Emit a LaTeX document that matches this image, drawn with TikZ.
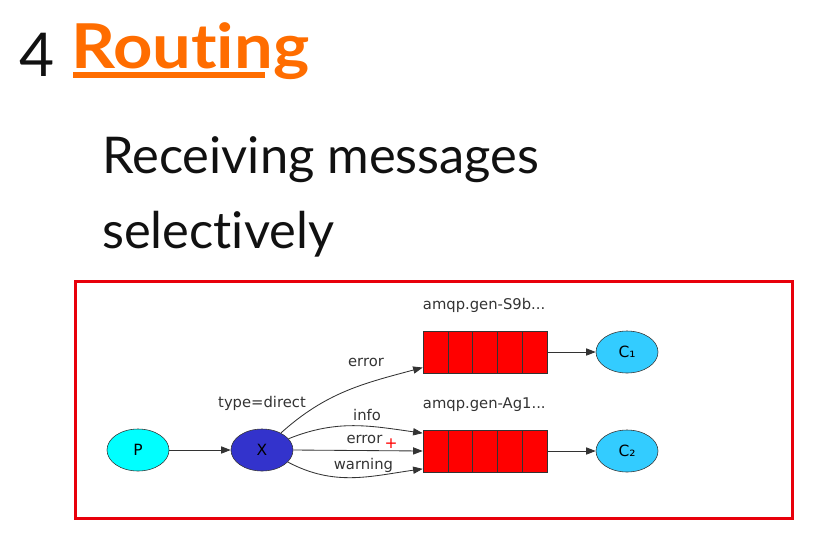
\documentclass[tikz,border=0pt]{standalone}
\usepackage{fontspec}
\usepackage{tikz}
\usepackage{xcolor}
\usetikzlibrary{shapes.geometric, arrows.meta, positioning, calc}
\setmainfont{Lato}[Ligatures=NoCommon]
\newfontfamily\linkfont{Lato}[Ligatures=NoCommon, FakeStretch=1.11]
\newfontfamily\dotfont{DejaVu Sans}
\definecolor{SlideOrange}{HTML}{FF6D00}
\definecolor{SlideBlack}{HTML}{111111}
\definecolor{FrameRed}{HTML}{E8000B}
\definecolor{DotGray}{HTML}{333333}
\definecolor{ProducerCyan}{HTML}{00FFFF}
\definecolor{ExchangeBlue}{HTML}{3333CC}
\definecolor{ConsumerBlue}{HTML}{33CCFF}
\definecolor{QueueRed}{HTML}{FF0000}
\tikzset{
    % Slide text styles
    slidenum/.style={
        inner sep=0pt,
        anchor=base west,
        text=SlideBlack,
        font=\fontsize{43}{50}\selectfont
    },
    slidelink/.style={
        inner sep=0pt,
        anchor=base west,
        text=SlideOrange,
        font=\linkfont\fontsize{44}{50}\selectfont\bfseries
    },
    slidetext/.style={
        inner sep=0pt,
        anchor=base west,
        text=SlideBlack,
        font=\fontsize{36}{42}\selectfont
    },
    % Node styles - graphviz look
    producer/.style={
        ellipse,
        draw=DotGray,
        fill=ProducerCyan,
        minimum width=1.55cm,
        minimum height=1.05cm,
        inner sep=0pt,
        font=\dotfont\fontsize{11}{13}\selectfont
    },
    exchange/.style={
        producer,
        fill=ExchangeBlue
    },
    consumer/.style={
        producer,
        fill=ConsumerBlue
    },
    queuebox/.style={
        rectangle,
        draw=DotGray,
        fill=QueueRed,
        minimum width=3.1cm,
        minimum height=1.05cm,
        path picture={
            \foreach \k in {1,...,4}
                \draw[DotGray] ($(path picture bounding box.north west)!\k/5!(path picture bounding box.north east)$)
                    -- ($(path picture bounding box.south west)!\k/5!(path picture bounding box.south east)$);
        }
    },
    dotlabel/.style={
        inner sep=0pt,
        text=DotGray,
        font=\dotfont\fontsize{10.5}{12}\selectfont
    },
    % Arrow styles
    myarrow/.style={
        -{Triangle[length=2.4mm, width=1.8mm]},
        DotGray,
        line width=0.6pt
    }
}
\begin{document}
\begin{tikzpicture}[x=0.025cm, y=-0.025cm]
    \useasboundingbox (0,0) rectangle (827,547);

    % title
    \node[slidenum] (num) at (19,76) {4};
    \node[slidelink] (title) at (71,68) {Routing};
    \draw[SlideOrange, line width=0.14cm] (73,75) -- (265,75);
    \node[slidetext] (sub1) at (102,173) {Receiving messages};
    \node[slidetext] (sub2) at (102,248) {selectively};

    % frame
    \draw[FrameRed, line width=0.075cm] (75.5,281.5) rectangle (792.5,518);

    % graph
    \node[producer] (p) at (138,450) {P};
    \node[exchange] (x) at (262,450) {X};
    \node[queuebox] (q1) at (485,352) {};
    \node[queuebox] (q2) at (485,451) {};
    \node[consumer] (c1) at (627,352) {C₁};
    \node[consumer] (c2) at (627,451) {C₂};

    \node[dotlabel, above=0.45cm of x] (xtype) {type=direct};
    \node[dotlabel, above right=0.45cm and 0cm of q1.north west] (q1name) {amqp.gen-S9b...};
    \node[dotlabel, above right=0.45cm and 0cm of q2.north west] (q2name) {amqp.gen-Ag1...};

    \draw[myarrow] (p) -- (x);
    \draw[myarrow] (x.42) to[out=42, in=195] node[dotlabel, pos=0.64, above=0.42cm] {error} (q1.194);
    \draw[myarrow] (x.23) to[out=22, in=172] node[dotlabel, pos=0.6, above=0.12cm] {info} (q2.164);
    \draw[myarrow] (x.east) -- node[dotlabel, pos=0.55, above=0.15cm] (errmid) {error} (q2.west);
    \draw[myarrow] (x.-25) to[out=-28, in=188] node[dotlabel, pos=0.58, above=0.1cm] {warning} (q2.196);
    \node[text=red, font=\dotfont\fontsize{11}{12}\selectfont, inner sep=0pt] (cursor) at (391,444) {+};

    \draw[myarrow] (q1) -- (c1);
    \draw[myarrow] (q2) -- (c2);
\end{tikzpicture}
\end{document}
